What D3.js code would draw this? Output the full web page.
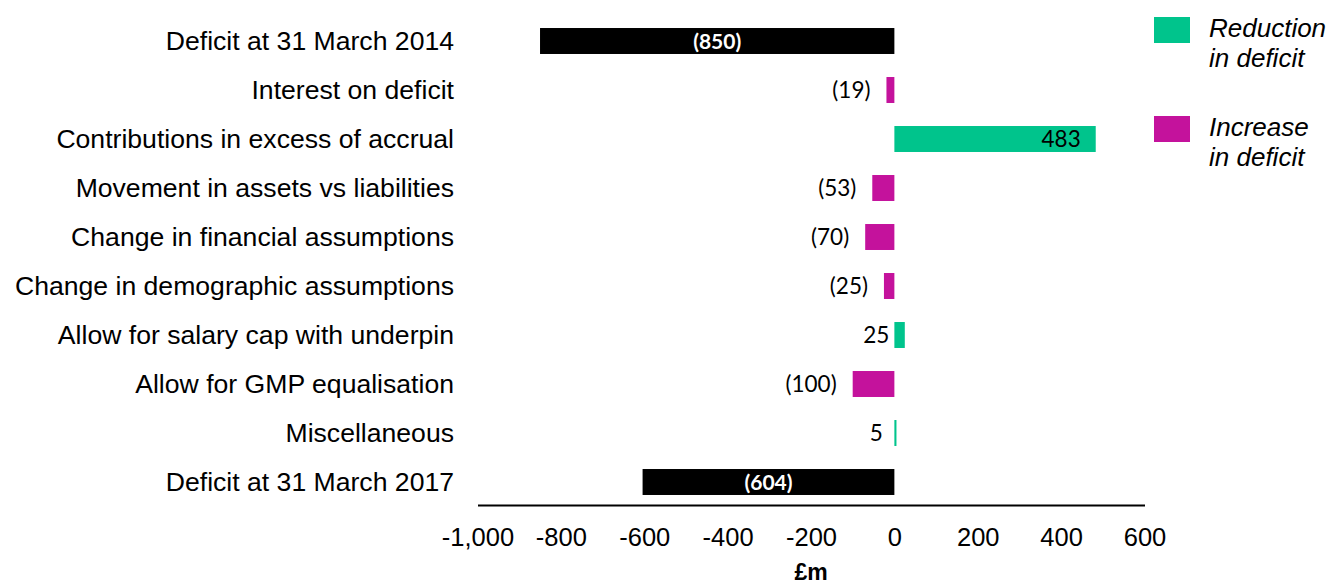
<!DOCTYPE html>
<html>
<head>
<meta charset="utf-8">
<script src="https://cdn.jsdelivr.net/npm/d3@7"></script>
<style>
  html, body { margin: 0; padding: 0; background: #fff; }
  svg { display: block; }
</style>
</head>
<body>
<svg id="chart" width="1330" height="585"></svg>
<script>
const categories = [
  "Deficit at 31 March 2014",
  "Interest on deficit",
  "Contributions in excess of accrual",
  "Movement in assets vs liabilities",
  "Change in financial assumptions",
  "Change in demographic assumptions",
  "Allow for salary cap with underpin",
  "Allow for GMP equalisation",
  "Miscellaneous",
  "Deficit at 31 March 2017"
];
const values = [-850, -19, 483, -53, -70, -25, 25, -100, 5, -604];
const kinds = ["total", "change", "change", "change", "change", "change", "change", "change", "change", "total"];
const tickValues = [-1000, -800, -600, -400, -200, 0, 200, 400, 600];
const legendItems = [
  { key: "reduction", lines: ["Reduction", "in deficit"] },
  { key: "increase", lines: ["Increase", "in deficit"] }
];
const axisTitle = "£m";

const colors = { total: "#000000", reduction: "#00C48C", increase: "#C4129C" };
const data = categories.map((c, i) => ({ cat: c, value: values[i], kind: kinds[i] }));
const colorOf = d => d.kind === "total" ? colors.total : (d.value >= 0 ? colors.reduction : colors.increase);
const fmtLabel = v => v < 0 ? "(" + Math.abs(v) + ")" : String(v);

const svg = d3.select("#chart");
const x = d3.scaleLinear().domain([-1000, 600]).range([477.5, 1144.5]);
const y = d3.scaleBand().domain(categories).range([16.5, 506.5]).paddingInner(0.47).paddingOuter(0.235);

// category labels
svg.append("g").selectAll("text").data(data).join("text")
  .attr("x", 454)
  .attr("y", d => y(d.cat) + y.bandwidth() / 2)
  .attr("dy", "0.35em")
  .attr("text-anchor", "end")
  .attr("font-family", "Liberation Sans, Arial, sans-serif")
  .attr("font-size", 26.6)
  .attr("fill", "#000")
  .text(d => d.cat);

// bars
svg.append("g").selectAll("rect").data(data).join("rect")
  .attr("x", d => x(Math.min(0, d.value)))
  .attr("y", d => y(d.cat))
  .attr("width", d => Math.abs(x(d.value) - x(0)))
  .attr("height", y.bandwidth())
  .attr("fill", colorOf);

// value labels
const labelFont = "Lato, sans-serif";
svg.append("g").selectAll("text").data(data).join("text")
  .each(function(d) {
    const t = d3.select(this);
    const cy = y(d.cat) + y.bandwidth() / 2;
    t.attr("y", cy).attr("dy", "0.36em")
      .attr("font-family", labelFont)
      .attr("font-size", 22.5)
      .attr("fill", "#000");
    if (d.kind === "total") {
      t.attr("x", (x(d.value) + x(0)) / 2)
        .attr("text-anchor", "middle")
        .attr("fill", "#fff")
        .attr("font-weight", "bold")
        .attr("font-size", 21);
    } else if (d.value < 0) {
      t.attr("x", x(d.value) - 16).attr("text-anchor", "end");
    } else if (x(d.value) - x(0) > 60) {
      t.attr("x", x(d.value) - 15).attr("text-anchor", "end");
    } else {
      t.attr("x", x(0) - 18).attr("text-anchor", "middle");
    }
    t.text(fmtLabel(d.value));
  });

// x axis
const axis = d3.axisBottom(x)
  .tickValues(tickValues)
  .tickSize(0)
  .tickPadding(23)
  .tickFormat(d => d3.format(",")(d).replace("\u2212", "-"));
const gx = svg.append("g").attr("transform", "translate(0,505)").call(axis);
gx.select(".domain").attr("stroke", "#000").attr("stroke-width", 2);
gx.selectAll(".tick text")
  .attr("font-family", "Liberation Sans, Arial, sans-serif")
  .attr("font-size", 25.5)
  .attr("fill", "#000");

svg.append("text")
  .attr("x", (x.range()[0] + x.range()[1]) / 2)
  .attr("y", 580)
  .attr("text-anchor", "middle")
  .attr("font-family", "Liberation Sans, Arial, sans-serif")
  .attr("font-weight", "bold")
  .attr("font-size", 23)
  .text(axisTitle);

// legend
const lg = svg.append("g");
legendItems.forEach((item, i) => {
  const top = 17 + i * 99;
  lg.append("rect").attr("x", 1154).attr("y", top).attr("width", 36).attr("height", 26)
    .attr("fill", colors[item.key]);
  item.lines.forEach((line, j) => {
    lg.append("text")
      .attr("x", 1209)
      .attr("y", top + 20 + j * 30)
      .attr("font-family", "Liberation Sans, Arial, sans-serif")
      .attr("font-style", "italic")
      .attr("font-size", 26)
      .attr("fill", "#000")
      .text(line);
  });
});
</script>
</body>
</html>
